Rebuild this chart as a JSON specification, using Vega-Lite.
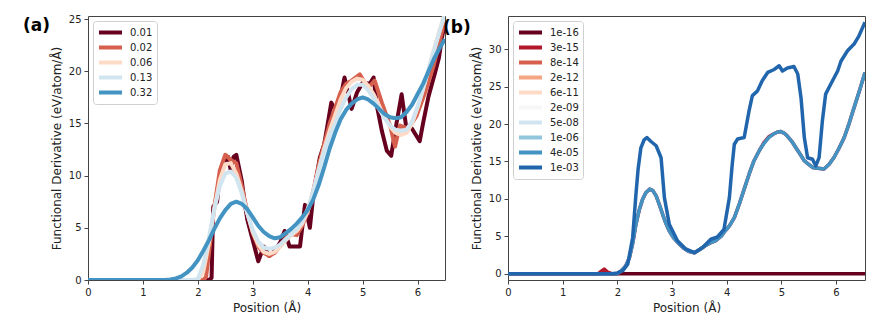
{
  "$schema": "https://vega.github.io/schema/vega-lite/v6.json",
  "background": "white",
  "padding": {"left": 22, "top": 13, "right": 8, "bottom": 0},
  "bounds": "flush",
  "spacing": 63,
  "datasets": {
    "a": [
      {"s":"0.01","x":0,"y":0},{"s":"0.01","x":2.2,"y":0},{"s":"0.01","x":2.25,"y":0.2},{"s":"0.01","x":2.28,"y":7.0},{"s":"0.01","x":2.35,"y":7.5},{"s":"0.01","x":2.4,"y":10.0},{"s":"0.01","x":2.5,"y":11.5},{"s":"0.01","x":2.55,"y":11.8},{"s":"0.01","x":2.6,"y":10.5},{"s":"0.01","x":2.65,"y":11.8},{"s":"0.01","x":2.7,"y":12.0},{"s":"0.01","x":2.8,"y":9.5},{"s":"0.01","x":2.85,"y":7.5},{"s":"0.01","x":2.9,"y":5.8},{"s":"0.01","x":3.0,"y":3.8},{"s":"0.01","x":3.1,"y":1.8},{"s":"0.01","x":3.2,"y":3.2},{"s":"0.01","x":3.3,"y":2.3},{"s":"0.01","x":3.4,"y":2.8},{"s":"0.01","x":3.5,"y":3.6},{"s":"0.01","x":3.58,"y":4.7},{"s":"0.01","x":3.67,"y":3.2},{"s":"0.01","x":3.86,"y":3.2},{"s":"0.01","x":3.95,"y":7.2},{"s":"0.01","x":4.04,"y":5.0},{"s":"0.01","x":4.1,"y":8.0},{"s":"0.01","x":4.22,"y":11.7},{"s":"0.01","x":4.3,"y":13.0},{"s":"0.01","x":4.35,"y":14.5},{"s":"0.01","x":4.43,"y":17.0},{"s":"0.01","x":4.5,"y":16.3},{"s":"0.01","x":4.6,"y":17.5},{"s":"0.01","x":4.67,"y":19.4},{"s":"0.01","x":4.8,"y":16.4},{"s":"0.01","x":4.9,"y":18.0},{"s":"0.01","x":5.0,"y":18.9},{"s":"0.01","x":5.13,"y":18.8},{"s":"0.01","x":5.2,"y":19.4},{"s":"0.01","x":5.26,"y":16.7},{"s":"0.01","x":5.35,"y":14.3},{"s":"0.01","x":5.44,"y":12.4},{"s":"0.01","x":5.52,"y":11.9},{"s":"0.01","x":5.6,"y":14.5},{"s":"0.01","x":5.71,"y":17.8},{"s":"0.01","x":5.79,"y":14.8},{"s":"0.01","x":5.9,"y":14.5},{"s":"0.01","x":6.04,"y":13.3},{"s":"0.01","x":6.1,"y":15.0},{"s":"0.01","x":6.2,"y":17.6},{"s":"0.01","x":6.32,"y":19.9},{"s":"0.01","x":6.39,"y":21.3},{"s":"0.01","x":6.45,"y":23.4},{"s":"0.01","x":6.5,"y":24.5},
      {"s":"0.02","x":0,"y":0},{"s":"0.02","x":2.1,"y":0},{"s":"0.02","x":2.15,"y":0.3},{"s":"0.02","x":2.2,"y":2.5},{"s":"0.02","x":2.3,"y":7.0},{"s":"0.02","x":2.4,"y":10.5},{"s":"0.02","x":2.5,"y":12.0},{"s":"0.02","x":2.6,"y":11.5},{"s":"0.02","x":2.7,"y":11.2},{"s":"0.02","x":2.8,"y":9.0},{"s":"0.02","x":2.9,"y":6.5},{"s":"0.02","x":3.0,"y":4.5},{"s":"0.02","x":3.1,"y":3.2},{"s":"0.02","x":3.2,"y":2.6},{"s":"0.02","x":3.3,"y":2.3},{"s":"0.02","x":3.4,"y":2.6},{"s":"0.02","x":3.5,"y":3.3},{"s":"0.02","x":3.6,"y":4.0},{"s":"0.02","x":3.7,"y":4.4},{"s":"0.02","x":3.8,"y":4.3},{"s":"0.02","x":3.9,"y":5.2},{"s":"0.02","x":4.0,"y":6.5},{"s":"0.02","x":4.1,"y":8.5},{"s":"0.02","x":4.2,"y":11.0},{"s":"0.02","x":4.3,"y":13.0},{"s":"0.02","x":4.4,"y":15.0},{"s":"0.02","x":4.5,"y":16.5},{"s":"0.02","x":4.6,"y":18.0},{"s":"0.02","x":4.7,"y":18.8},{"s":"0.02","x":4.8,"y":19.1},{"s":"0.02","x":4.95,"y":19.7},{"s":"0.02","x":5.1,"y":18.4},{"s":"0.02","x":5.22,"y":19.1},{"s":"0.02","x":5.35,"y":17.0},{"s":"0.02","x":5.5,"y":14.8},{"s":"0.02","x":5.59,"y":12.8},{"s":"0.02","x":5.68,"y":14.8},{"s":"0.02","x":5.83,"y":14.5},{"s":"0.02","x":5.98,"y":15.7},{"s":"0.02","x":6.14,"y":18.0},{"s":"0.02","x":6.29,"y":20.5},{"s":"0.02","x":6.44,"y":23.7},{"s":"0.02","x":6.5,"y":25.0},
      {"s":"0.06","x":0,"y":0},{"s":"0.06","x":2.0,"y":0},{"s":"0.06","x":2.1,"y":0.8},{"s":"0.06","x":2.2,"y":3.5},{"s":"0.06","x":2.3,"y":6.8},{"s":"0.06","x":2.4,"y":9.6},{"s":"0.06","x":2.5,"y":11.1},{"s":"0.06","x":2.6,"y":11.2},{"s":"0.06","x":2.7,"y":10.2},{"s":"0.06","x":2.8,"y":8.5},{"s":"0.06","x":2.9,"y":6.4},{"s":"0.06","x":3.0,"y":4.6},{"s":"0.06","x":3.1,"y":3.4},{"s":"0.06","x":3.2,"y":2.7},{"s":"0.06","x":3.3,"y":2.5},{"s":"0.06","x":3.4,"y":2.7},{"s":"0.06","x":3.5,"y":3.2},{"s":"0.06","x":3.6,"y":3.8},{"s":"0.06","x":3.7,"y":4.3},{"s":"0.06","x":3.8,"y":4.7},{"s":"0.06","x":3.9,"y":5.4},{"s":"0.06","x":4.0,"y":6.6},{"s":"0.06","x":4.1,"y":8.4},{"s":"0.06","x":4.2,"y":10.6},{"s":"0.06","x":4.3,"y":12.6},{"s":"0.06","x":4.4,"y":14.3},{"s":"0.06","x":4.5,"y":15.8},{"s":"0.06","x":4.6,"y":17.3},{"s":"0.06","x":4.7,"y":18.4},{"s":"0.06","x":4.8,"y":19.0},{"s":"0.06","x":4.9,"y":19.3},{"s":"0.06","x":5.0,"y":19.2},{"s":"0.06","x":5.1,"y":18.6},{"s":"0.06","x":5.2,"y":17.8},{"s":"0.06","x":5.3,"y":16.7},{"s":"0.06","x":5.4,"y":15.6},{"s":"0.06","x":5.5,"y":14.7},{"s":"0.06","x":5.6,"y":14.1},{"s":"0.06","x":5.7,"y":13.9},{"s":"0.06","x":5.8,"y":14.1},{"s":"0.06","x":5.9,"y":15.0},{"s":"0.06","x":6.0,"y":16.5},{"s":"0.06","x":6.1,"y":18.3},{"s":"0.06","x":6.2,"y":20.2},{"s":"0.06","x":6.3,"y":22.1},{"s":"0.06","x":6.4,"y":23.9},{"s":"0.06","x":6.5,"y":25.6},
      {"s":"0.13","x":0,"y":0},{"s":"0.13","x":1.9,"y":0},{"s":"0.13","x":2.0,"y":0.1},{"s":"0.13","x":2.1,"y":1.5},{"s":"0.13","x":2.2,"y":4.0},{"s":"0.13","x":2.3,"y":6.8},{"s":"0.13","x":2.4,"y":9.0},{"s":"0.13","x":2.5,"y":10.2},{"s":"0.13","x":2.6,"y":10.4},{"s":"0.13","x":2.7,"y":9.8},{"s":"0.13","x":2.8,"y":8.3},{"s":"0.13","x":2.9,"y":6.4},{"s":"0.13","x":3.0,"y":4.8},{"s":"0.13","x":3.1,"y":3.7},{"s":"0.13","x":3.2,"y":3.1},{"s":"0.13","x":3.3,"y":3.0},{"s":"0.13","x":3.4,"y":3.1},{"s":"0.13","x":3.5,"y":3.4},{"s":"0.13","x":3.6,"y":3.9},{"s":"0.13","x":3.7,"y":4.4},{"s":"0.13","x":3.8,"y":4.9},{"s":"0.13","x":3.9,"y":5.6},{"s":"0.13","x":4.0,"y":6.8},{"s":"0.13","x":4.1,"y":8.5},{"s":"0.13","x":4.2,"y":10.5},{"s":"0.13","x":4.3,"y":12.3},{"s":"0.13","x":4.4,"y":13.8},{"s":"0.13","x":4.5,"y":15.0},{"s":"0.13","x":4.6,"y":16.4},{"s":"0.13","x":4.7,"y":17.5},{"s":"0.13","x":4.8,"y":18.3},{"s":"0.13","x":4.9,"y":18.7},{"s":"0.13","x":5.0,"y":18.7},{"s":"0.13","x":5.1,"y":18.2},{"s":"0.13","x":5.2,"y":17.4},{"s":"0.13","x":5.3,"y":16.4},{"s":"0.13","x":5.4,"y":15.5},{"s":"0.13","x":5.5,"y":14.8},{"s":"0.13","x":5.6,"y":14.4},{"s":"0.13","x":5.7,"y":14.3},{"s":"0.13","x":5.8,"y":14.4},{"s":"0.13","x":5.9,"y":15.2},{"s":"0.13","x":6.0,"y":16.6},{"s":"0.13","x":6.1,"y":18.3},{"s":"0.13","x":6.2,"y":20.2},{"s":"0.13","x":6.3,"y":22.0},{"s":"0.13","x":6.4,"y":23.8},{"s":"0.13","x":6.5,"y":25.5},
      {"s":"0.32","x":0,"y":0},{"s":"0.32","x":1.4,"y":0},{"s":"0.32","x":1.5,"y":0.05},{"s":"0.32","x":1.6,"y":0.15},{"s":"0.32","x":1.7,"y":0.35},{"s":"0.32","x":1.8,"y":0.7},{"s":"0.32","x":1.9,"y":1.2},{"s":"0.32","x":2.0,"y":1.9},{"s":"0.32","x":2.1,"y":2.8},{"s":"0.32","x":2.2,"y":3.8},{"s":"0.32","x":2.3,"y":4.9},{"s":"0.32","x":2.4,"y":5.9},{"s":"0.32","x":2.5,"y":6.7},{"s":"0.32","x":2.6,"y":7.3},{"s":"0.32","x":2.7,"y":7.5},{"s":"0.32","x":2.8,"y":7.3},{"s":"0.32","x":2.9,"y":6.8},{"s":"0.32","x":3.0,"y":6.0},{"s":"0.32","x":3.1,"y":5.2},{"s":"0.32","x":3.2,"y":4.6},{"s":"0.32","x":3.3,"y":4.2},{"s":"0.32","x":3.4,"y":4.0},{"s":"0.32","x":3.5,"y":4.1},{"s":"0.32","x":3.6,"y":4.5},{"s":"0.32","x":3.7,"y":4.9},{"s":"0.32","x":3.8,"y":5.4},{"s":"0.32","x":3.9,"y":6.0},{"s":"0.32","x":4.0,"y":6.7},{"s":"0.32","x":4.1,"y":7.7},{"s":"0.32","x":4.2,"y":9.1},{"s":"0.32","x":4.3,"y":10.8},{"s":"0.32","x":4.4,"y":12.6},{"s":"0.32","x":4.5,"y":14.1},{"s":"0.32","x":4.6,"y":15.4},{"s":"0.32","x":4.7,"y":16.3},{"s":"0.32","x":4.8,"y":16.9},{"s":"0.32","x":4.9,"y":17.3},{"s":"0.32","x":5.0,"y":17.5},{"s":"0.32","x":5.1,"y":17.3},{"s":"0.32","x":5.2,"y":16.9},{"s":"0.32","x":5.3,"y":16.4},{"s":"0.32","x":5.4,"y":15.9},{"s":"0.32","x":5.5,"y":15.6},{"s":"0.32","x":5.6,"y":15.5},{"s":"0.32","x":5.7,"y":15.6},{"s":"0.32","x":5.8,"y":16.1},{"s":"0.32","x":5.9,"y":16.8},{"s":"0.32","x":6.0,"y":17.8},{"s":"0.32","x":6.1,"y":18.8},{"s":"0.32","x":6.2,"y":20.0},{"s":"0.32","x":6.3,"y":21.2},{"s":"0.32","x":6.4,"y":22.2},{"s":"0.32","x":6.5,"y":23.1}
    ],
    "b": [
      {"s":"1e-16","x":0,"y":0},{"s":"1e-16","x":6.53,"y":0},
      {"s":"3e-15","x":0,"y":0},{"s":"3e-15","x":1.65,"y":0},{"s":"3e-15","x":1.72,"y":0.4},{"s":"3e-15","x":1.76,"y":0.6},{"s":"3e-15","x":1.82,"y":0.2},{"s":"3e-15","x":1.9,"y":0},{"s":"3e-15","x":2.0,"y":0},{"s":"3e-15","x":2.07,"y":0.36},{"s":"3e-15","x":2.15,"y":1.0},{"s":"3e-15","x":2.22,"y":2.1},{"s":"3e-15","x":2.28,"y":4.0},{"s":"3e-15","x":2.34,"y":6.6},{"s":"3e-15","x":2.4,"y":8.5},{"s":"3e-15","x":2.46,"y":9.9},{"s":"3e-15","x":2.52,"y":10.8},{"s":"3e-15","x":2.59,"y":11.3},{"s":"3e-15","x":2.65,"y":11.1},{"s":"3e-15","x":2.71,"y":10.4},{"s":"3e-15","x":2.77,"y":9.2},{"s":"3e-15","x":2.83,"y":7.9},{"s":"3e-15","x":2.89,"y":6.7},{"s":"3e-15","x":2.95,"y":5.7},{"s":"3e-15","x":3.03,"y":4.8},{"s":"3e-15","x":3.1,"y":4.2},{"s":"3e-15","x":3.2,"y":3.5},{"s":"3e-15","x":3.3,"y":3.0},{"s":"3e-15","x":3.41,"y":2.8},{"s":"3e-15","x":3.5,"y":3.2},{"s":"3e-15","x":3.6,"y":3.7},{"s":"3e-15","x":3.7,"y":4.1},{"s":"3e-15","x":3.8,"y":4.4},{"s":"3e-15","x":3.9,"y":5.0},{"s":"3e-15","x":3.95,"y":5.5},{"s":"3e-15","x":4.05,"y":6.4},{"s":"3e-15","x":4.14,"y":7.5},{"s":"3e-15","x":4.23,"y":9.3},{"s":"3e-15","x":4.32,"y":11.3},{"s":"3e-15","x":4.41,"y":13.3},{"s":"3e-15","x":4.5,"y":15.1},{"s":"3e-15","x":4.6,"y":16.5},{"s":"3e-15","x":4.69,"y":17.6},{"s":"3e-15","x":4.77,"y":18.3},{"s":"3e-15","x":4.84,"y":18.6},{"s":"3e-15","x":4.92,"y":18.9},{"s":"3e-15","x":4.99,"y":19.0},{"s":"3e-15","x":5.05,"y":18.8},{"s":"3e-15","x":5.11,"y":18.4},{"s":"3e-15","x":5.19,"y":17.7},{"s":"3e-15","x":5.27,"y":16.8},{"s":"3e-15","x":5.35,"y":15.9},{"s":"3e-15","x":5.42,"y":15.1},{"s":"3e-15","x":5.5,"y":14.6},{"s":"3e-15","x":5.57,"y":14.2},{"s":"3e-15","x":5.67,"y":14.1},{"s":"3e-15","x":5.78,"y":14.0},{"s":"3e-15","x":5.87,"y":14.6},{"s":"3e-15","x":5.96,"y":15.5},{"s":"3e-15","x":6.05,"y":16.7},{"s":"3e-15","x":6.15,"y":18.2},{"s":"3e-15","x":6.24,"y":20.1},{"s":"3e-15","x":6.33,"y":22.2},{"s":"3e-15","x":6.43,"y":24.5},{"s":"3e-15","x":6.53,"y":26.9},
      {"s":"4e-05","x":0,"y":0},{"s":"4e-05","x":2.0,"y":0},{"s":"4e-05","x":2.07,"y":0.36},{"s":"4e-05","x":2.15,"y":1.0},{"s":"4e-05","x":2.22,"y":2.1},{"s":"4e-05","x":2.28,"y":4.0},{"s":"4e-05","x":2.34,"y":6.6},{"s":"4e-05","x":2.4,"y":8.5},{"s":"4e-05","x":2.46,"y":9.9},{"s":"4e-05","x":2.52,"y":10.8},{"s":"4e-05","x":2.59,"y":11.3},{"s":"4e-05","x":2.65,"y":11.1},{"s":"4e-05","x":2.71,"y":10.4},{"s":"4e-05","x":2.77,"y":9.2},{"s":"4e-05","x":2.83,"y":7.9},{"s":"4e-05","x":2.89,"y":6.7},{"s":"4e-05","x":2.95,"y":5.7},{"s":"4e-05","x":3.03,"y":4.8},{"s":"4e-05","x":3.1,"y":4.2},{"s":"4e-05","x":3.2,"y":3.5},{"s":"4e-05","x":3.3,"y":3.0},{"s":"4e-05","x":3.41,"y":2.8},{"s":"4e-05","x":3.5,"y":3.2},{"s":"4e-05","x":3.6,"y":3.7},{"s":"4e-05","x":3.7,"y":4.1},{"s":"4e-05","x":3.8,"y":4.4},{"s":"4e-05","x":3.9,"y":5.0},{"s":"4e-05","x":3.95,"y":5.5},{"s":"4e-05","x":4.05,"y":6.4},{"s":"4e-05","x":4.14,"y":7.5},{"s":"4e-05","x":4.23,"y":9.3},{"s":"4e-05","x":4.32,"y":11.3},{"s":"4e-05","x":4.41,"y":13.3},{"s":"4e-05","x":4.5,"y":15.1},{"s":"4e-05","x":4.6,"y":16.5},{"s":"4e-05","x":4.69,"y":17.5},{"s":"4e-05","x":4.77,"y":18.2},{"s":"4e-05","x":4.84,"y":18.6},{"s":"4e-05","x":4.92,"y":18.9},{"s":"4e-05","x":4.99,"y":19.0},{"s":"4e-05","x":5.05,"y":18.8},{"s":"4e-05","x":5.11,"y":18.4},{"s":"4e-05","x":5.19,"y":17.7},{"s":"4e-05","x":5.27,"y":16.8},{"s":"4e-05","x":5.35,"y":15.9},{"s":"4e-05","x":5.42,"y":15.1},{"s":"4e-05","x":5.5,"y":14.6},{"s":"4e-05","x":5.57,"y":14.2},{"s":"4e-05","x":5.67,"y":14.1},{"s":"4e-05","x":5.78,"y":14.0},{"s":"4e-05","x":5.87,"y":14.6},{"s":"4e-05","x":5.96,"y":15.5},{"s":"4e-05","x":6.05,"y":16.7},{"s":"4e-05","x":6.15,"y":18.2},{"s":"4e-05","x":6.24,"y":20.1},{"s":"4e-05","x":6.33,"y":22.2},{"s":"4e-05","x":6.43,"y":24.5},{"s":"4e-05","x":6.53,"y":26.9},
      {"s":"1e-03","x":0,"y":0},{"s":"1e-03","x":1.9,"y":0},{"s":"1e-03","x":2.0,"y":0.1},{"s":"1e-03","x":2.1,"y":0.4},{"s":"1e-03","x":2.19,"y":1.25},{"s":"1e-03","x":2.28,"y":4.8},{"s":"1e-03","x":2.34,"y":10.6},{"s":"1e-03","x":2.38,"y":14.0},{"s":"1e-03","x":2.43,"y":16.8},{"s":"1e-03","x":2.49,"y":17.9},{"s":"1e-03","x":2.54,"y":18.2},{"s":"1e-03","x":2.61,"y":17.7},{"s":"1e-03","x":2.71,"y":17.1},{"s":"1e-03","x":2.8,"y":15.5},{"s":"1e-03","x":2.86,"y":10.2},{"s":"1e-03","x":2.95,"y":6.6},{"s":"1e-03","x":3.1,"y":4.4},{"s":"1e-03","x":3.25,"y":3.3},{"s":"1e-03","x":3.41,"y":2.8},{"s":"1e-03","x":3.56,"y":3.5},{"s":"1e-03","x":3.71,"y":4.6},{"s":"1e-03","x":3.83,"y":4.9},{"s":"1e-03","x":3.95,"y":5.9},{"s":"1e-03","x":4.05,"y":10.2},{"s":"1e-03","x":4.1,"y":14.5},{"s":"1e-03","x":4.14,"y":17.3},{"s":"1e-03","x":4.2,"y":18.0},{"s":"1e-03","x":4.32,"y":18.2},{"s":"1e-03","x":4.41,"y":21.8},{"s":"1e-03","x":4.47,"y":23.8},{"s":"1e-03","x":4.56,"y":24.4},{"s":"1e-03","x":4.65,"y":25.8},{"s":"1e-03","x":4.75,"y":26.9},{"s":"1e-03","x":4.87,"y":27.3},{"s":"1e-03","x":4.96,"y":27.8},{"s":"1e-03","x":5.02,"y":27.1},{"s":"1e-03","x":5.11,"y":27.5},{"s":"1e-03","x":5.23,"y":27.7},{"s":"1e-03","x":5.3,"y":26.7},{"s":"1e-03","x":5.36,"y":23.5},{"s":"1e-03","x":5.42,"y":18.2},{"s":"1e-03","x":5.48,"y":15.5},{"s":"1e-03","x":5.57,"y":15.3},{"s":"1e-03","x":5.63,"y":14.4},{"s":"1e-03","x":5.69,"y":15.5},{"s":"1e-03","x":5.75,"y":20.4},{"s":"1e-03","x":5.81,"y":24.0},{"s":"1e-03","x":5.9,"y":25.3},{"s":"1e-03","x":6.03,"y":27.1},{"s":"1e-03","x":6.09,"y":28.4},{"s":"1e-03","x":6.21,"y":29.8},{"s":"1e-03","x":6.33,"y":30.7},{"s":"1e-03","x":6.42,"y":31.8},{"s":"1e-03","x":6.51,"y":33.3},{"s":"1e-03","x":6.53,"y":33.6}
    ]
  },
  "hconcat": [
    {
      "width": 357,
      "height": 264,
      "title": {"text": "(a)", "anchor": "start", "frame": "group", "dx": -65, "dy": 29, "offset": 0, "baseline": "middle", "fontSize": 17, "fontWeight": "bold", "color": "black"},
      "data": {"name": "a"},
      "mark": {"type": "line", "strokeWidth": 4, "clip": true, "strokeJoin": "round"},
      "encoding": {
        "x": {"field": "x", "type": "quantitative", "scale": {"domain": [0, 6.5], "nice": false, "zero": false}, "axis": {"values": [0, 1, 2, 3, 4, 5, 6], "title": "Position (Å)"}},
        "y": {"field": "y", "type": "quantitative", "scale": {"domain": [0, 25.3], "nice": false}, "axis": {"values": [0, 5, 10, 15, 20, 25], "title": "Functional Derivative (eV/atom/Å)"}},
        "color": {"field": "s", "type": "nominal", "sort": null,
          "scale": {"domain": ["0.01", "0.02", "0.06", "0.13", "0.32"], "range": ["#67001f", "#d6604d", "#fddbc7", "#d1e5f0", "#4393c3"]},
          "legend": {"title": null}}
      }
    },
    {
      "width": 357,
      "height": 264,
      "title": {"text": "(b)", "anchor": "start", "frame": "group", "dx": -65, "dy": 29, "offset": 0, "baseline": "middle", "fontSize": 17, "fontWeight": "bold", "color": "black"},
      "data": {"name": "b"},
      "mark": {"type": "line", "strokeWidth": 3.5, "clip": true, "strokeJoin": "round"},
      "encoding": {
        "x": {"field": "x", "type": "quantitative", "scale": {"domain": [0, 6.53], "nice": false, "zero": false}, "axis": {"values": [0, 1, 2, 3, 4, 5, 6], "title": "Position (Å)"}},
        "y": {"field": "y", "type": "quantitative", "scale": {"domain": [-0.85, 34.45], "nice": false, "zero": false}, "axis": {"values": [0, 5, 10, 15, 20, 25, 30], "title": "Functional Derivative (eV/atom/Å)"}},
        "color": {"field": "s", "type": "nominal", "sort": null,
          "scale": {"domain": ["1e-16", "3e-15", "8e-14", "2e-12", "6e-11", "2e-09", "5e-08", "1e-06", "4e-05", "1e-03"], "range": ["#67001f", "#b2182b", "#d6604d", "#f4a582", "#fddbc7", "#f7f7f7", "#d1e5f0", "#92c5de", "#4393c3", "#2166ac"]},
          "legend": {"title": null}}
      }
    }
  ],
  "resolve": {"scale": {"color": "independent"}, "legend": {"color": "independent"}},
  "config": {
    "font": "DejaVu Sans",
    "view": {"stroke": "#444", "strokeWidth": 1},
    "axis": {"domain": false, "grid": false, "tickColor": "#444", "tickSize": 4, "labelFontSize": 10, "labelColor": "#222", "labelFlush": false, "labelPadding": 3, "titleFontSize": 12, "titleFontWeight": "normal", "titleColor": "#222", "titlePadding": 5},
    "legend": {"orient": "top-left", "offset": 5, "symbolType": "stroke", "symbolSize": 529, "symbolStrokeWidth": 4, "labelFontSize": 10, "labelColor": "#222", "labelOffset": 6, "strokeColor": "#d0d0d0", "fillColor": "rgba(255,255,255,0.85)", "padding": 4, "cornerRadius": 3, "rowPadding": 0, "clipHeight": 15}
  }
}
